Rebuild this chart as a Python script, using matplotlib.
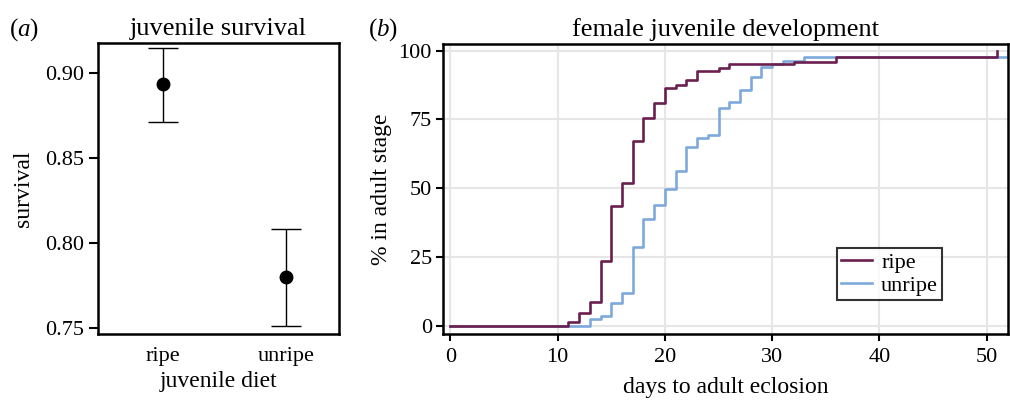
import matplotlib
matplotlib.use("Agg")
import matplotlib.pyplot as plt

plt.rcParams['font.family'] = ['Liberation Serif', 'DejaVu Serif']
plt.rcParams['mathtext.fontset'] = 'custom'
plt.rcParams['mathtext.rm'] = 'Liberation Serif'
plt.rcParams['mathtext.it'] = 'Liberation Serif:italic'

# --- panel (a): survival by diet ---
diets = ['ripe', 'unripe']
surv = [0.8937, 0.7801]
surv_lo = [0.8715, 0.7509]
surv_hi = [0.9147, 0.8083]

# --- panel (b): cumulative % adult (step curves) ---
ripe_days = [0, 11, 12, 13, 14, 15, 16, 17, 18, 19, 20, 21, 22, 23, 25, 26, 32, 36, 51]
ripe_pct = [0, 1.2, 4.5, 8.7, 23.5, 43.4, 52.0, 67.0, 75.5, 81.1, 86.3, 87.5, 89.3,
            92.6, 93.8, 95.0, 95.8, 97.6, 100]
unripe_days = [0, 13, 14, 15, 16, 17, 18, 19, 20, 21, 22, 23, 24, 25, 26, 27, 28, 29,
               30, 31, 33, 52]
unripe_pct = [0, 2.4, 3.6, 8.4, 11.8, 28.5, 38.8, 43.9, 49.7, 56.4, 64.9, 68.3, 69.4,
              79.0, 81.5, 85.7, 90.3, 94.0, 95.2, 96.3, 97.6, 100]

c_ripe = '#6b1f4f'
c_unripe = '#7ea9dc'
fs_tick = 16
fs_lab = 17
fs_title = 19

fig = plt.figure(figsize=(10.1, 4.0), dpi=100)

# (a)
ax1 = fig.add_axes([0.0967, 0.164, 0.2389, 0.728])
xpos = [1, 2]
yerr = [[s - l for s, l in zip(surv, surv_lo)], [h - s for s, h in zip(surv, surv_hi)]]
ax1.errorbar(xpos, surv, yerr=yerr, fmt='o', color='black', ms=9, ecolor='black',
             elinewidth=1.0, capsize=11, capthick=1.0)
ax1.set_xlim(0.464, 2.435)
ax1.set_ylim(0.7461, 0.9177)
ax1.set_xticks(xpos)
ax1.set_xticklabels(diets)
ax1.set_yticks([0.75, 0.80, 0.85, 0.90])
ax1.set_yticklabels(['0.75', '0.80', '0.85', '0.90'])
ax1.tick_params(axis='y', direction='out', length=6.5, width=1.5, labelsize=fs_tick, pad=3)
ax1.tick_params(axis='x', length=0, labelsize=fs_tick, pad=9)
for s in ax1.spines.values():
    s.set_linewidth(1.8)
ax1.set_xlabel('juvenile diet', fontsize=fs_lab, labelpad=4)
ax1.set_ylabel('survival', fontsize=fs_lab, labelpad=8)
ax1.set_title('juvenile survival', fontsize=fs_title, pad=6)
fig.text(0.009, 0.912, '($a$)', fontsize=18)

# (b)
ax2 = fig.add_axes([0.4386, 0.165, 0.5594, 0.725])
ax2.step(unripe_days, unripe_pct, where='post', color=c_unripe, lw=1.9, label='unripe')
ax2.step(ripe_days, ripe_pct, where='post', color=c_ripe, lw=1.9, label='ripe')
ax2.set_xlim(-0.7, 52.0)
ax2.set_ylim(-3, 102.4)
ax2.set_xticks([0, 10, 20, 30, 40, 50])
ax2.set_yticks([0, 25, 50, 75, 100])
ax2.grid(True, color='#e6e6e6', lw=1.5)
ax2.set_axisbelow(True)
ax2.tick_params(direction='out', length=5, width=1.5, labelsize=fs_tick, pad=3)
ax2.tick_params(axis='x', pad=5)
for s in ax2.spines.values():
    s.set_linewidth(1.8)
ax2.set_xlabel('days to adult eclosion', fontsize=fs_lab, labelpad=7)
ax2.set_ylabel('% in adult stage', fontsize=fs_lab, labelpad=5)
ax2.set_title('female juvenile development', fontsize=fs_title, pad=6)
h, l = ax2.get_legend_handles_labels()
leg = ax2.legend(h[::-1], l[::-1], loc='lower right', bbox_to_anchor=(0.884, 0.117),
                 fontsize=fs_tick, frameon=True, fancybox=False, handlelength=1.4,
                 borderpad=0.2, labelspacing=0.1, handletextpad=0.4, borderaxespad=0)
leg.get_frame().set_edgecolor('black')
leg.get_frame().set_linewidth(1.5)
fig.text(0.364, 0.912, '($b$)', fontsize=18)

fig.savefig('out.png', dpi=100)
